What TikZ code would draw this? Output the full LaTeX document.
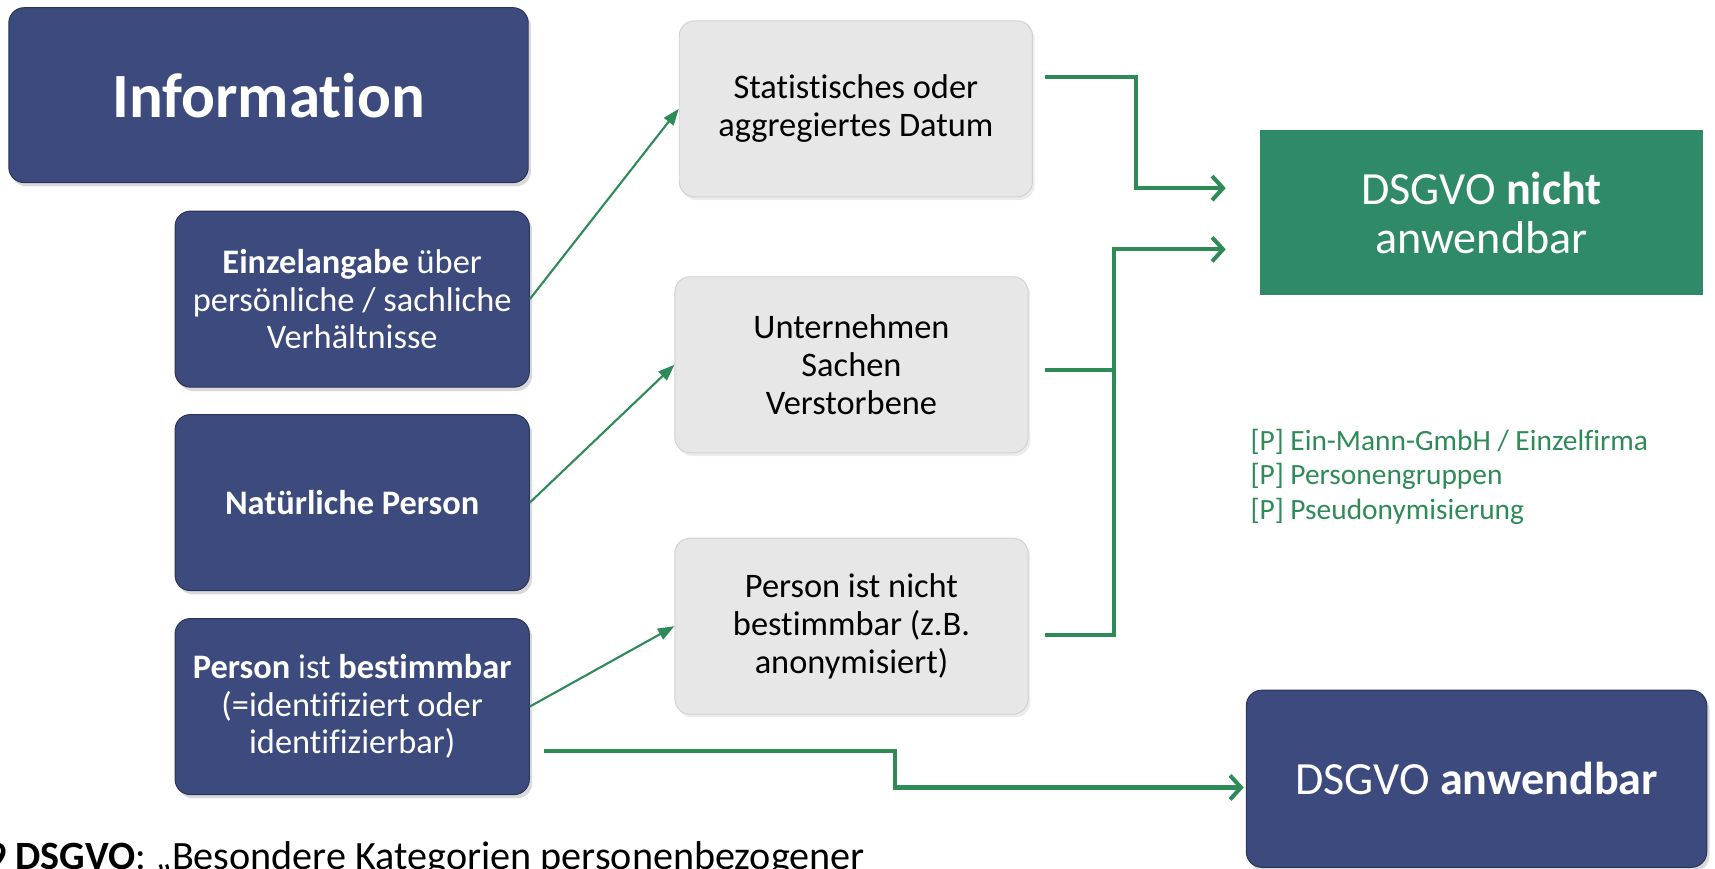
\documentclass[tikz,border=0pt]{standalone}
\usepackage{fontspec}
\setmainfont{Carlito}[Ligatures=NoCommon]
\usetikzlibrary{calc,arrows.meta,shadows}

\definecolor{dsblue}{RGB}{60,74,126}
\definecolor{dsgreen}{RGB}{47,138,104}
\definecolor{arrgreen}{RGB}{46,139,87}
\definecolor{boxgray}{RGB}{231,231,231}

\tikzset{
  bluebox/.style={draw=dsblue!70!black, fill=dsblue, rounded corners=0.28cm, text=white,
    align=center, inner sep=0pt, line width=0.5pt,
    drop shadow={shadow xshift=0.05cm, shadow yshift=-0.07cm, opacity=0.3}},
  graybox/.style={draw=black!18, fill=boxgray, rounded corners=0.28cm, text=black,
    align=center, inner sep=0pt, line width=0.5pt,
    minimum width=6.46cm, minimum height=3.22cm,
    drop shadow={shadow xshift=0.04cm, shadow yshift=-0.06cm, opacity=0.15}},
  boxtext/.style={font=\fontsize{17.9}{19.6}\selectfont},
  thinarrow/.style={draw=arrgreen, line width=1.1pt, -{Triangle[length=0.3cm,width=0.22cm]}},
  bigline/.style={draw=arrgreen, line width=2.1pt},
  bigarrow/.style={bigline, -{Straight Barb[length=0.2cm,width=0.44cm,line width=2.1pt]}}
}

\begin{document}
\begin{tikzpicture}[x=0.02cm, y=-0.02cm]
  \path[clip] (0,0) rectangle (1568,794);

  % Left column
  \node[bluebox, minimum width=9.5cm, minimum height=3.2cm,
    font=\fontsize{32.8}{38}\selectfont\bfseries] (info) at (245.5,87) {Information};
  \node[bluebox, boxtext, minimum width=6.48cm, minimum height=3.22cm] (einzel) at (322,273.5)
    {\textbf{Einzelangabe} über\\persönliche / sachliche\\Verhältnisse};
  \node[bluebox, boxtext, minimum width=6.48cm, minimum height=3.22cm] (natperson) at (322,459.5)
    {\textbf{Natürliche Person}};
  \node[bluebox, boxtext, minimum width=6.48cm, minimum height=3.22cm] (bestimmbar) at (322,646)
    {\textbf{Person} ist \textbf{bestimmbar}\\(=identifiziert oder\\identifizierbar)};

  % Middle column
  \node[graybox, boxtext] (statistik) at (782.5,99.5) {Statistisches oder\\aggregiertes Datum};
  \node[graybox, boxtext] (sachen) at (778.5,333.5) {Unternehmen\\Sachen\\Verstorbene};
  \node[graybox, boxtext] (nichtbest) at (778.5,572.5) {Person ist nicht\\bestimmbar (z.B.\\anonymisiert)};

  % Right column
  \node[fill=dsgreen, text=white, align=center, inner sep=0pt,
    minimum width=8.1cm, minimum height=3.02cm,
    font=\fontsize{24}{25.5}\selectfont] (nichtanw) at (1354.5,194.5)
    {DSGVO \textbf{nicht}\\anwendbar};
  \node[bluebox, minimum width=8.42cm, minimum height=3.24cm,
    font=\fontsize{24}{25.5}\selectfont] (anw) at (1350,712)
    {DSGVO \textbf{anwendbar}};

  \node[text=arrgreen, align=left, inner sep=0pt, anchor=west,
    font=\fontsize{15.3}{18.2}\selectfont] (ausnahmen) at (1143,436)
    {{[P]} Ein-Mann-GmbH / Einzelfirma\\{[P]} Personengruppen\\{[P]} Pseudonymisierung};

  % cut off line at the bottom
  \node[anchor=base west, inner sep=0pt, font=\fontsize{20.9}{25}\selectfont] (art9) at (-13,795)
    {\textbf{9 DSGVO}: „Besondere Kategorien personenbezogener};

  % Thin arrows
  \draw[thinarrow] (einzel.east) -- (statistik.west);
  \draw[thinarrow] (natperson.east) -- (sachen.west);
  \draw[thinarrow] (bestimmbar.east) -- (nichtbest.west);

  % Thick arrows
  \draw[bigarrow] ($(statistik.east)+(11,-29.5)$) -| ++(83,102) -- ($(nichtanw.west)+(-31,-22.5)$);
  \draw[bigline] ($(sachen.east)+(15,5)$) -- ++(64,0);
  \draw[bigarrow] ($(nichtbest.east)+(15,8)$) -| ($(nichtanw.west)+(-133,33.5)$) -- ($(nichtanw.west)+(-31,33.5)$);
  \draw[bigarrow] ($(bestimmbar.east)+(13,41)$) -- ++(321,0) |- ($(anw.west)+(-2,8)$);
\end{tikzpicture}
\end{document}
